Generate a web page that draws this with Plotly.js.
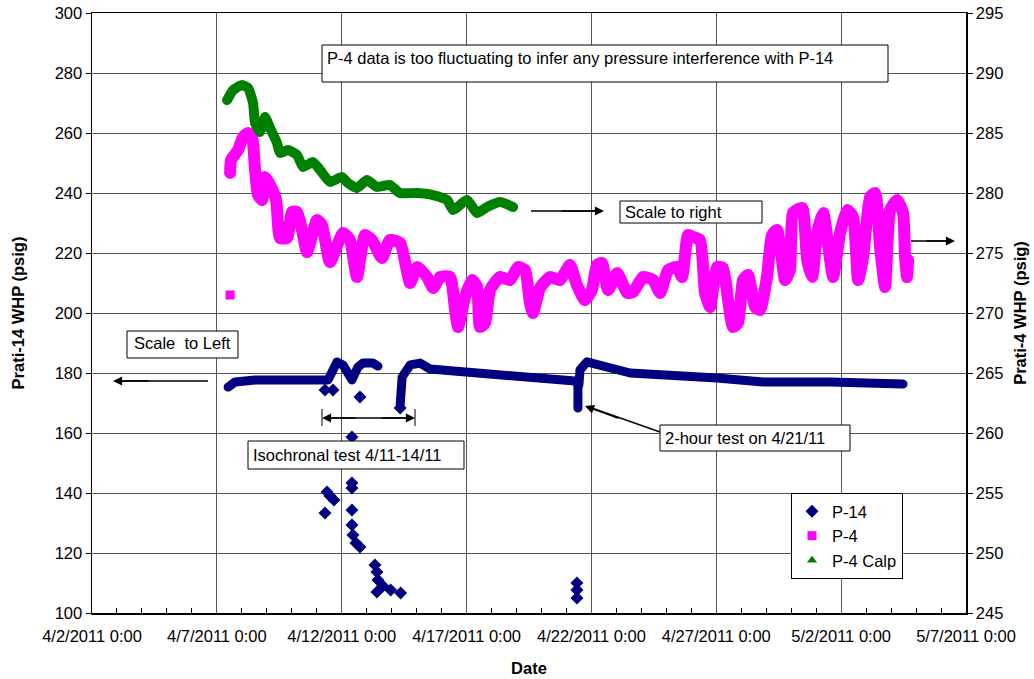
<!DOCTYPE html>
<html>
<head>
<meta charset="utf-8">
<script src="https://cdn.plot.ly/plotly-3.0.1.min.js"></script>
<style>
  html, body { margin: 0; padding: 0; background: #fff; }
  #chart { width: 1034px; height: 679px; }
  .js-line { stroke-linejoin: round !important; stroke-linecap: round !important; }
</style>
</head>
<body>
<div id="chart"></div>
<script>
// Time values are "day of April 2011" (decimal days; 31 = May 1)
// ---------- P-14 (left axis, psig) ----------
const p14Seg1Day = [7.45, 7.73, 8.53, 10.25, 11.45, 11.61, 11.81, 12.05, 12.21, 12.41, 12.65, 12.85, 13.25, 13.45];
const p14Seg1Val = [175.3, 177.0, 177.7, 177.7, 177.7, 180.3, 183.7, 182.7, 181.0, 177.7, 182.0, 183.3, 183.3, 182.3];
const p14Seg2Day = [14.34, 14.34, 14.42, 14.74, 15.14, 15.54, 16.86, 18.22, 19.54, 21.34, 21.46, 21.46, 21.46];
const p14Seg2Val = [169.3, 173.3, 178.7, 182.7, 183.3, 181.3, 180.3, 179.3, 178.0, 177.3, 176.0, 172.0, 168.3];
const p14Seg3Day = [21.50, 21.54, 21.82, 23.55, 27.03, 28.87, 31.56, 34.48];
const p14Seg3Val = [176.0, 181.0, 183.7, 180.0, 178.3, 177.0, 177.0, 176.3];
const p14PtsDay = [11.33, 11.65, 12.73, 12.41, 12.41, 12.41, 12.41, 11.41, 11.53, 11.69, 11.33,
                   12.41, 12.45, 12.57, 12.73, 13.33, 13.41, 13.45, 13.65, 13.96, 14.36, 13.41,
                   21.42, 21.42, 21.42, 14.34];
const p14PtsVal = [174.3, 174.3, 172.0, 158.7, 143.3, 141.7, 134.3, 140.3, 139.0, 137.7, 133.3,
                   129.3, 126.0, 123.3, 122.0, 116.0, 113.7, 111.0, 109.0, 107.7, 106.7, 107.0,
                   110.0, 107.7, 105.0, 168.3];

// ---------- P-4 (right axis, psig) ----------
const p4Day = [7.53, 7.57, 7.85, 8.05, 8.25, 8.41, 8.53, 8.65, 8.81, 8.93, 9.13, 9.37, 9.53, 9.81, 10.01, 10.21,
  10.41, 10.61, 11.01, 11.21, 11.53, 12.05, 12.33, 12.61, 12.93, 13.21, 13.61, 13.93, 14.34, 14.74, 15.02,
  15.42, 15.66, 15.94, 16.34, 16.54, 16.66, 16.94, 17.22, 17.42, 17.54, 17.74, 17.94, 18.34, 18.74, 19.06,
  19.34, 19.54, 19.66, 19.94, 20.34, 20.74, 21.14, 21.42, 21.74, 22.02, 22.22, 22.42, 22.67, 23.03, 23.43,
  23.67, 24.07, 24.47, 24.75, 25.07, 25.43, 25.63, 25.87, 26.07, 26.35, 26.55, 26.75, 27.03, 27.27, 27.47,
  27.67, 27.87, 28.07, 28.27, 28.55, 28.75, 29.03, 29.23, 29.43, 29.63, 29.75, 29.95, 30.07, 30.44, 30.64,
  30.84, 31.04, 31.28, 31.56, 31.68, 31.96, 32.24, 32.48, 32.68, 32.88, 33.16, 33.36, 33.56, 33.76, 33.96,
  34.24, 34.48, 34.56, 34.64, 34.68];
const p4Val = [281.67, 282.75, 283.58, 284.67, 285.0, 284.67, 281.92, 279.83, 279.42, 281.33, 280.67, 279.42,
  276.25, 276.25, 278.42, 278.42, 276.92, 275.08, 277.75, 277.33, 274.25, 276.67, 276.08, 273.0, 276.5, 276.08,
  274.58, 276.08, 275.83, 272.5, 273.83, 273.0, 272.08, 273.0, 273.0, 270.25, 268.83, 271.33, 272.75, 272.17,
  268.83, 269.17, 271.92, 273.0, 272.75, 273.83, 273.58, 270.83, 270.0, 272.08, 273.0, 272.75, 274.0, 272.33,
  271.08, 271.92, 274.0, 274.17, 271.92, 273.33, 271.67, 271.75, 273.0, 272.75, 271.67, 273.58, 273.83, 273.0,
  276.5, 276.33, 276.08, 271.67, 270.5, 273.83, 273.75, 271.08, 268.83, 269.17, 272.75, 273.17, 270.5, 270.25,
  273.0, 276.5, 276.92, 274.42, 272.75, 273.58, 278.33, 278.75, 274.42, 273.0, 276.67, 278.33, 274.42, 273.0,
  276.67, 278.58, 278.0, 272.75, 274.67, 279.67, 280.0, 275.5, 272.17, 278.58, 279.42, 278.33, 274.67, 273.0,
  274.42];
const p4PtDay = [7.53];
const p4PtVal = [271.5];

// ---------- P-4 Calp (right axis, psig) ----------
const calpDay = [7.41, 7.65, 8.01, 8.25, 8.45, 8.53, 8.73, 8.93, 9.13, 9.41, 9.53, 9.85, 10.21, 10.45, 10.85,
  11.13, 11.53, 12.01, 12.25, 12.61, 13.01, 13.41, 13.93, 14.33, 15.02, 15.66, 16.22, 16.46, 17.02, 17.42,
  17.82, 18.34, 18.86];
const calpVal = [287.75, 288.58, 289.0, 288.75, 287.5, 285.83, 285.08, 286.33, 285.42, 284.17, 283.33, 283.58,
  283.17, 282.17, 282.58, 281.92, 280.92, 281.33, 280.83, 280.42, 281.08, 280.5, 280.67, 280.0, 280.0, 279.83,
  279.42, 278.58, 279.42, 278.33, 278.83, 279.25, 278.83];

// ---------- Axis settings ----------
const xStartDay = 2, xEndDay = 37;
const yLeftRange = [100, 300], yLeftStep = 20;
const yRightRange = [245, 295], yRightStep = 5;

function T(d) {
  if (d === null) return null;
  return new Date(Date.UTC(2011, 3, 1) + (d - 1) * 864e5).toISOString().slice(0, 19).replace('T', ' ');
}
function joinSegs(segs) {
  const out = [];
  segs.forEach((s, i) => { if (i) out.push(null); out.push(...s); });
  return out;
}

const NAVY = '#000080', MAG = '#FF00FF', GRN = '#008000';
const FONT = 'Liberation Sans, Arial, sans-serif';
const FS = 16.5;

const data = [
  {
    x: joinSegs([p14Seg1Day, p14Seg2Day, p14Seg3Day]).map(T),
    y: joinSegs([p14Seg1Val, p14Seg2Val, p14Seg3Val]),
    mode: 'lines', line: { color: NAVY, width: 9 }, showlegend: false, hoverinfo: 'skip',
    connectgaps: false, yaxis: 'y'
  },
  {
    x: p14PtsDay.map(T), y: p14PtsVal, name: 'P-14', mode: 'markers',
    marker: { symbol: 'diamond', size: 10, color: NAVY }, legendrank: 1, yaxis: 'y'
  },
  {
    x: p4PtDay.map(T), y: p4PtVal, name: 'P-4', mode: 'markers',
    marker: { symbol: 'square', size: 9, color: MAG }, legendrank: 2, yaxis: 'y2'
  },
  {
    x: p4Day.map(T), y: p4Val, mode: 'lines', line: { color: MAG, width: 12, shape: 'spline', smoothing: 0.5 },
    showlegend: false, hoverinfo: 'skip', yaxis: 'y2'
  },
  {
    x: [T(calpDay[0])], y: [calpVal[0]], name: 'P-4 Calp', mode: 'markers',
    marker: { symbol: 'triangle-up', size: 9, color: GRN }, legendrank: 3, yaxis: 'y2'
  },
  {
    x: calpDay.map(T), y: calpVal, mode: 'lines', line: { color: GRN, width: 10, shape: 'spline', smoothing: 0.5 },
    showlegend: false, hoverinfo: 'skip', yaxis: 'y2'
  }
];

// helpers: pixel -> paper for plot area (l=92, t=13, w=874, h=600)
const PX = p => (p - 92) / 874;
const PY = p => (613 - p) / 600;

const boxes = [
  [322, 45, 888, 82], [620, 201, 762, 223], [127, 331, 238, 358], [248, 441, 464, 469], [660, 425, 850, 451]
];
const shapes = boxes.map(b => ({
  type: 'rect', xref: 'paper', yref: 'paper', x0: PX(b[0]), x1: PX(b[2]), y0: PY(b[3]), y1: PY(b[1]),
  line: { color: '#000', width: 1 }, fillcolor: '#fff', layer: 'above'
}));
[322, 415].forEach(px => shapes.push({
  type: 'line', xref: 'paper', yref: 'paper', x0: PX(px), x1: PX(px), y0: PY(426), y1: PY(409),
  line: { color: '#000', width: 1 }
}));
// arrow shafts as lines (heads added by annotations)
[[531, 211, 600, 211], [911, 241, 951, 241], [117, 381, 208, 381], [326, 418, 411, 418], [589, 407, 660, 432]]
  .forEach(s => shapes.push({
    type: 'line', xref: 'paper', yref: 'paper', x0: PX(s[0]), y0: PY(s[1]), x1: PX(s[2]), y1: PY(s[3]),
    line: { color: '#000', width: 1.4 }
  }));

const textAnn = [
  ['P-4 data is too fluctuating to infer any pressure interference with P-14', 325, 58],
  ['Scale to right', 623, 212],
  ['Scale\u00a0 to Left', 132, 343],
  ['Isochronal test 4/11-14/11', 251, 455],
  ['2-hour test on 4/21/11', 663, 438]
].map(a => ({
  text: a[0], xref: 'paper', yref: 'paper', x: PX(a[1]), y: PY(a[2]), xanchor: 'left', yanchor: 'middle',
  showarrow: false, font: { family: FONT, size: FS, color: '#000' }
}));

function arrow(hx, hy, tx, ty) {
  return {
    text: '', xref: 'paper', yref: 'paper', x: PX(hx), y: PY(hy), ax: tx - hx, ay: ty - hy,
    showarrow: true, arrowhead: 2, arrowsize: 1.3, arrowwidth: 1.4, arrowcolor: '#000', standoff: 0, startstandoff: 0
  };
}
const arrows = [
  arrow(604, 211, 560, 211),
  arrow(955, 241, 925, 241),
  arrow(113, 381, 150, 381),
  arrow(415, 418, 380, 418),
  arrow(322, 418, 357, 418),
  arrow(585, 406, 620, 419)
];

const axisFont = { family: FONT, size: FS, color: '#000' };
const titleFont = { family: FONT, size: FS, color: '#000' };
const layout = {
  width: 1034, height: 679,
  margin: { l: 92, r: 68, t: 13, b: 66 },
  paper_bgcolor: '#fff', plot_bgcolor: '#fff',
  font: { family: FONT, size: FS, color: '#000' },
  xaxis: {
    type: 'date', range: [T(xStartDay), T(xEndDay)], tick0: T(xStartDay), dtick: 5 * 864e5,
    tickformat: '%-m/%-d/%Y %-H:%M', tickfont: axisFont, ticks: '', ticklabelstandoff: 8, showgrid: true,
    gridcolor: '#555', gridwidth: 1, showline: true, linecolor: '#000', linewidth: 1.5, mirror: true,
    zeroline: false,
    minor: { dtick: 864e5, ticks: 'inside', ticklen: 5, tickcolor: '#000', showgrid: false },
    title: { text: '<b>Date</b>', font: titleFont, standoff: 18 }
  },
  yaxis: {
    range: yLeftRange, dtick: yLeftStep, tick0: 100, tickfont: axisFont, ticks: 'outside', ticklen: 5,
    tickcolor: '#000', showgrid: true, gridcolor: '#555', gridwidth: 1, showline: true, linecolor: '#000',
    linewidth: 1.5, mirror: true, zeroline: false,
    title: { text: '<b>Prati-14 WHP (psig)</b>', font: titleFont, standoff: 26 }
  },
  yaxis2: {
    overlaying: 'y', side: 'right', range: yRightRange, dtick: yRightStep, tick0: 245, tickfont: axisFont,
    ticks: 'outside', ticklen: 5, tickcolor: '#000', showgrid: false, showline: true, linecolor: '#000',
    linewidth: 1.5, zeroline: false,
    title: { text: '<b>Prati-4 WHP (psig)</b>', font: titleFont, standoff: 12 }
  },
  legend: {
    x: PX(791), y: PY(493), xanchor: 'left', yanchor: 'top', bgcolor: '#fff', bordercolor: '#000',
    borderwidth: 1, font: { family: FONT, size: FS, color: '#000' }, itemwidth: 30, tracegroupgap: 0
  },
  shapes: shapes,
  annotations: textAnn.concat(arrows),
  showlegend: true
};

Plotly.newPlot('chart', data, layout, { displayModeBar: false, staticPlot: true });
</script>
</body>
</html>
